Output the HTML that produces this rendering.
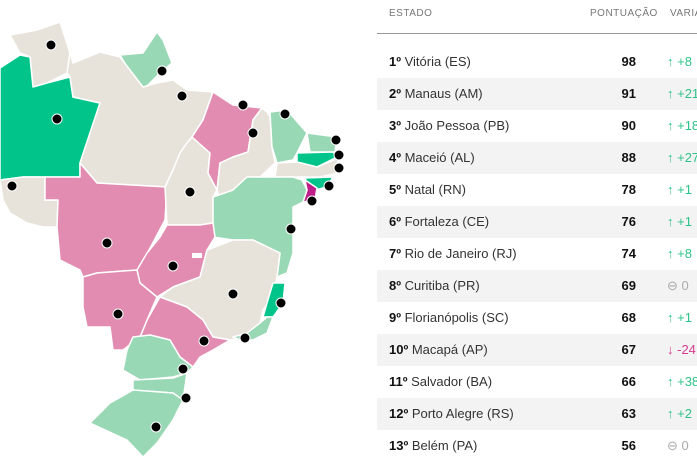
<!DOCTYPE html>
<html><head><meta charset="utf-8"><style>
body{margin:0;width:697px;height:465px;background:#fff;overflow:hidden;position:relative;font-family:"Liberation Sans",sans-serif}
svg{position:absolute;left:0;top:0}
.h{position:absolute;top:8px;font-size:10px;color:#777;letter-spacing:.5px}
.line{position:absolute;left:377px;top:33px;width:320px;height:1px;background:#999}
.row{position:absolute;left:377px;width:320px;height:32px;font-size:13px;line-height:32px;color:#333}
.row.g{background:#f3f3f3}
.row b{color:#111}
.n{position:absolute;left:12px}
.s{position:absolute;right:61px;font-weight:bold;color:#111}
.v{position:absolute;left:290px;color:#2ec28a;white-space:nowrap}
.v.d{color:#d63c91}.v.z{color:#aaa}
</style></head><body>
<svg width="370" height="465" viewBox="0 0 370 465">
<g stroke="#fff" stroke-width="1.5" stroke-linejoin="round">
<polygon fill="#e8e3da" points="10,35 37,30 60,22 70,53 67,73 47,83 33,87 30,57 20,53"/>
<polygon fill="#98d8b4" points="120,55 143,53 157,32 163,40 172,63 160,73 150,83 143,90 133,77"/>
<polygon fill="#00c48a" points="0,68 20,55 30,57 33,87 47,83 70,77 73,97 100,103 80,163 80,177 45,177 23,177 0,180"/>
<polygon fill="#e8e3da" points="73,63 100,52 120,57 143,87 157,83 173,80 187,90 213,92 203,120 192,137 187,143 180,153 173,170 165,187 97,183 80,163 100,103 73,97 70,77 67,73 70,53"/>
<polygon fill="#e8e3da" points="0,180 23,177 45,177 45,200 58,200 57,227 43,227 27,223 10,213 3,200"/>
<polygon fill="#e18cb0" points="45,177 80,177 80,163 97,183 167,187 165,220 140,267 137,270 97,273 83,277 80,270 60,260 57,227 58,200 45,200"/>
<polygon fill="#e8e3da" points="187,143 192,137 210,153 208,173 217,190 213,197 213,223 200,225 167,225 165,187 173,170 180,153"/>
<polygon fill="#e18cb0" points="213,92 233,105 262,108 253,120 248,152 233,157 220,163 217,190 208,173 210,153 192,137 203,120"/>
<polygon fill="#e8e3da" points="262,108 267,112 270,117 272,147 275,163 260,177 247,177 233,190 220,200 217,190 220,163 233,157 248,152 253,120"/>
<polygon fill="#98d8b4" points="270,112 287,110 307,133 297,153 293,160 277,163 272,147"/>
<polygon fill="#98d8b4" points="307,133 337,137 335,152 310,152"/>
<polygon fill="#00c48a" points="297,153 333,152 337,157 317,167 297,162"/>
<polygon fill="#e8e3da" points="277,163 297,162 317,167 338,158 338,173 320,177 293,177 275,177"/>
<polygon fill="#00c48a" points="305,178 333,177 327,187 315,190 307,183"/>
<polygon fill="#c01f8a" points="305,180 317,188 315,200 303,202 307,190"/>
<polygon fill="#98d8b4" points="213,197 233,190 247,177 260,177 275,177 293,177 302,180 307,190 303,202 293,207 293,253 287,273 277,277 280,253 253,240 233,240 213,237"/>
<polygon fill="#e18cb0" points="167,225 200,225 213,223 215,237 207,250 200,277 173,287 157,297 140,283 137,270 147,253 160,237"/>
<polygon fill="#e8e3da" points="207,250 233,240 253,240 280,253 277,277 273,297 263,310 260,323 247,337 230,340 213,337 203,320 187,307 160,297 173,287 200,277"/>
<polygon fill="#00c48a" points="273,283 285,283 283,303 273,317 263,317 267,303"/>
<polygon fill="#98d8b4" points="233,337 247,333 260,323 267,317 273,317 267,333 253,340 240,340"/>
<polygon fill="#e18cb0" points="160,297 187,307 203,320 213,337 230,340 213,350 200,357 193,367 180,357 170,340 150,335 140,337 147,320"/>
<polygon fill="#e18cb0" points="83,277 97,273 137,270 140,283 157,297 147,320 140,337 123,350 113,350 110,327 87,327 83,307"/>
<polygon fill="#98d8b4" points="133,337 150,335 170,340 180,357 193,367 187,373 173,377 140,380 123,370 127,350"/>
<polygon fill="#98d8b4" points="133,380 173,378 187,373 183,400 173,393 133,390"/>
<polygon fill="#98d8b4" points="133,390 173,393 183,400 173,420 157,443 143,457 127,440 90,423 110,403"/>
</g>
<rect x="192" y="253" width="10" height="5" fill="#fff"/>
<g fill="#000" stroke="#fff" stroke-width="1">
<circle cx="51" cy="45" r="5"/><circle cx="162" cy="71" r="5"/><circle cx="57" cy="119" r="5"/><circle cx="182" cy="96" r="5"/><circle cx="12" cy="186" r="5"/><circle cx="107" cy="243" r="5"/><circle cx="190" cy="192" r="5"/><circle cx="243" cy="105" r="5"/><circle cx="253" cy="133" r="5"/><circle cx="285" cy="114" r="5"/><circle cx="336" cy="140" r="5"/><circle cx="339" cy="155" r="5"/><circle cx="339" cy="168" r="5"/><circle cx="329" cy="186" r="5"/><circle cx="312" cy="201" r="5"/><circle cx="291" cy="229" r="5"/><circle cx="173" cy="266" r="5"/><circle cx="233" cy="294" r="5"/><circle cx="281" cy="303" r="5"/><circle cx="245" cy="338" r="5"/><circle cx="118" cy="314" r="5"/><circle cx="204" cy="341" r="5"/><circle cx="183" cy="369" r="5"/><circle cx="186" cy="398" r="5"/><circle cx="156" cy="427" r="5"/>
</g>
</svg>
<div class="h" style="left:389px">ESTADO</div>
<div class="h" style="left:590px">PONTUAÇÃO</div>
<div class="h" style="left:670px">VARIA</div>
<div class="line"></div>
<div class="row" style="top:46px"><span class="n"><b>1º</b> Vitória (ES)</span><span class="s">98</span><span class="v">↑ +8</span></div>
<div class="row g" style="top:78px"><span class="n"><b>2º</b> Manaus (AM)</span><span class="s">91</span><span class="v">↑ +21</span></div>
<div class="row" style="top:110px"><span class="n"><b>3º</b> João Pessoa (PB)</span><span class="s">90</span><span class="v">↑ +18</span></div>
<div class="row g" style="top:142px"><span class="n"><b>4º</b> Maceió (AL)</span><span class="s">88</span><span class="v">↑ +27</span></div>
<div class="row" style="top:174px"><span class="n"><b>5º</b> Natal (RN)</span><span class="s">78</span><span class="v">↑ +1</span></div>
<div class="row g" style="top:206px"><span class="n"><b>6º</b> Fortaleza (CE)</span><span class="s">76</span><span class="v">↑ +1</span></div>
<div class="row" style="top:238px"><span class="n"><b>7º</b> Rio de Janeiro (RJ)</span><span class="s">74</span><span class="v">↑ +8</span></div>
<div class="row g" style="top:270px"><span class="n"><b>8º</b> Curitiba (PR)</span><span class="s">69</span><span class="v z">⊖ 0</span></div>
<div class="row" style="top:302px"><span class="n"><b>9º</b> Florianópolis (SC)</span><span class="s">68</span><span class="v">↑ +1</span></div>
<div class="row g" style="top:334px"><span class="n"><b>10º</b> Macapá (AP)</span><span class="s">67</span><span class="v d">↓ -24</span></div>
<div class="row" style="top:366px"><span class="n"><b>11º</b> Salvador (BA)</span><span class="s">66</span><span class="v">↑ +38</span></div>
<div class="row g" style="top:398px"><span class="n"><b>12º</b> Porto Alegre (RS)</span><span class="s">63</span><span class="v">↑ +2</span></div>
<div class="row" style="top:430px"><span class="n"><b>13º</b> Belém (PA)</span><span class="s">56</span><span class="v z">⊖ 0</span></div>
</body></html>
